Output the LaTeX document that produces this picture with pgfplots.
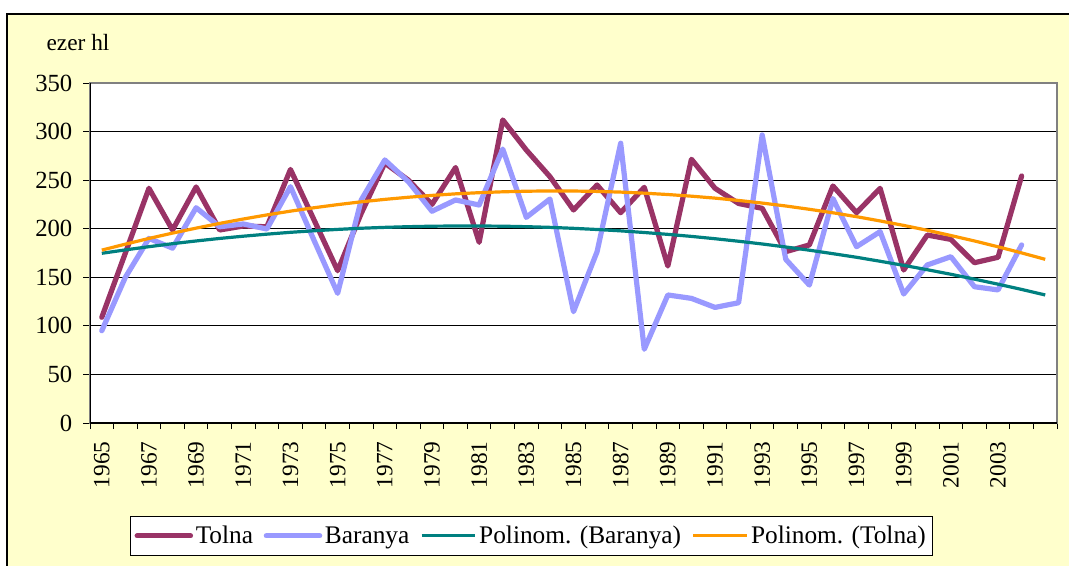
\documentclass[border=0pt]{standalone}
\usepackage{pgfplots}
\pgfplotsset{compat=1.18}
\usepackage{fontspec}
\setmainfont{Liberation Serif}
\definecolor{bgyellow}{HTML}{FFFFCC}
\definecolor{tolna}{HTML}{993366}
\definecolor{baranya}{HTML}{9999FF}
\definecolor{tealtr}{HTML}{008080}
\definecolor{orangetr}{HTML}{FF9900}
\begin{document}
\begin{tikzpicture}
\path[use as bounding box] (0,0) rectangle (801.75pt,423.75pt);
\fill[bgyellow] (5.25pt,-3pt) rectangle (805pt,413.25pt);
\draw[black,line width=0.8pt] (5.25pt,-3pt) -- (5.25pt,413.25pt) -- (805pt,413.25pt);
\node[font=\fontsize{17.5}{20}\selectfont] at (58.5pt,391.5pt) {ezer hl};
\begin{axis}[
  at={(67.5pt,106.5pt)}, anchor=south west,
  scale only axis, width=725.25pt, height=255pt,
  axis background/.style={fill=white},
  axis line style={draw=gray, line width=1pt},
  xmin=1964.5, xmax=2005.5, ymin=0, ymax=350,
  ytick={0,50,...,350},
  xtick={1965,1967,...,2003},
  minor xtick={1964.5,1965.5,...,2005.5},
  tick align=outside, tick pos=left,
  major tick length=5.25pt, minor tick length=4.5pt,
  major x tick style={draw=none},
  tick style={black, line width=0.75pt},
  ymajorgrids, grid style={black, line width=0.75pt},
  /pgf/number format/assume math mode=true,
  /pgf/number format/1000 sep={},
  yticklabel style={font=\fontsize{18.5}{20}\selectfont, xshift=-4.5pt},
  xticklabel style={font=\fontsize{17.5}{19}\selectfont, rotate=90, anchor=east, xshift=-5pt},
  legend columns=4,
  legend style={at={(0.4566,-0.332)}, anchor=center, draw=black, fill=white,
    line width=0.75pt,
    font=\fontsize{19}{22}\selectfont, inner xsep=3pt, inner ysep=5pt,
    /tikz/every even column/.append style={column sep=6pt}},
  legend image code/.code={\draw[#1] (0pt,0pt) -- (40pt,0pt);},
]
\addplot[tolna, line width=3.9pt, line join=round, line cap=round] coordinates {
(1965,108.8) (1966,175) (1967,241.6) (1968,198.7) (1969,243) (1970,198.7)
(1971,202.8) (1972,202) (1973,261) (1974,209) (1975,156.8) (1976,215.8)
(1977,267.6) (1978,250) (1979,225) (1980,263) (1981,186) (1982,312)
(1983,281) (1984,253.6) (1985,219.3) (1986,245) (1987,216.5) (1988,242.6)
(1989,161.6) (1990,271.5) (1991,241.6) (1992,226) (1993,221) (1994,176.4)
(1995,183.3) (1996,244) (1997,216.5) (1998,241.6) (1999,157.5) (2000,193.5)
(2001,189) (2002,165) (2003,170.6) (2004,254.3)};
\addlegendentry{Tolna}
\addplot[baranya, line width=3.9pt, line join=round, line cap=round] coordinates {
(1965,95) (1966,150) (1967,190) (1968,180) (1969,221.6) (1970,202)
(1971,204.9) (1972,199.7) (1973,243.3) (1974,188) (1975,133.5) (1976,229.6)
(1977,270.8) (1978,248.4) (1979,218) (1980,229.6) (1981,224.4) (1982,282)
(1983,211.7) (1984,230.6) (1985,114.6) (1986,176.4) (1987,288) (1988,75.9)
(1989,131.8) (1990,128.3) (1991,119) (1992,123.8) (1993,296.5) (1994,168.5)
(1995,142) (1996,231) (1997,181.5) (1998,197) (1999,132.8) (2000,162.7)
(2001,171.2) (2002,140.3) (2003,137) (2004,183.3)};
\addlegendentry{Baranya}
\addplot[tealtr, line width=2.4pt, line join=round] coordinates {
(1965,174.7) (1966,178.2) (1967,181.5) (1968,184.6) (1969,187.4) (1970,190.0)
(1971,192.3) (1972,194.4) (1973,196.3) (1974,197.9) (1975,199.3) (1976,200.5)
(1977,201.4) (1978,202.1) (1979,202.6) (1980,202.8) (1981,202.8) (1982,202.6)
(1983,202.1) (1984,201.4) (1985,200.4) (1986,199.2) (1987,197.8) (1988,196.1)
(1989,194.2) (1990,192.1) (1991,189.7) (1992,187.1) (1993,184.3) (1994,181.2)
(1995,177.9) (1996,174.3) (1997,170.6) (1998,166.5) (1999,162.3) (2000,157.8)
(2001,153.1) (2002,148.1) (2003,142.9) (2004,137.5) (2005,131.8)};
\addlegendentry{Polinom. (Baranya)}
\addplot[orangetr, line width=2.4pt, line join=round] coordinates {
(1965,178.0) (1966,184.1) (1967,190.0) (1968,195.5) (1969,200.6) (1970,205.5)
(1971,210.0) (1972,214.2) (1973,218.1) (1974,221.6) (1975,224.8) (1976,227.7)
(1977,230.2) (1978,232.4) (1979,234.3) (1980,235.9) (1981,237.1) (1982,238.0)
(1983,238.6) (1984,238.9) (1985,238.8) (1986,238.4) (1987,237.7) (1988,236.6)
(1989,235.2) (1990,233.5) (1991,231.5) (1992,229.1) (1993,226.4) (1994,223.4)
(1995,220.0) (1996,216.4) (1997,212.4) (1998,208.0) (1999,203.4) (2000,198.4)
(2001,193.0) (2002,187.4) (2003,181.4) (2004,175.1) (2005,168.5)};
\addlegendentry{Polinom. (Tolna)}
\draw[black, line width=1pt] (rel axis cs:0,1) -- (rel axis cs:0,0) -- (rel axis cs:1,0);
\end{axis}
\end{tikzpicture}
\end{document}
